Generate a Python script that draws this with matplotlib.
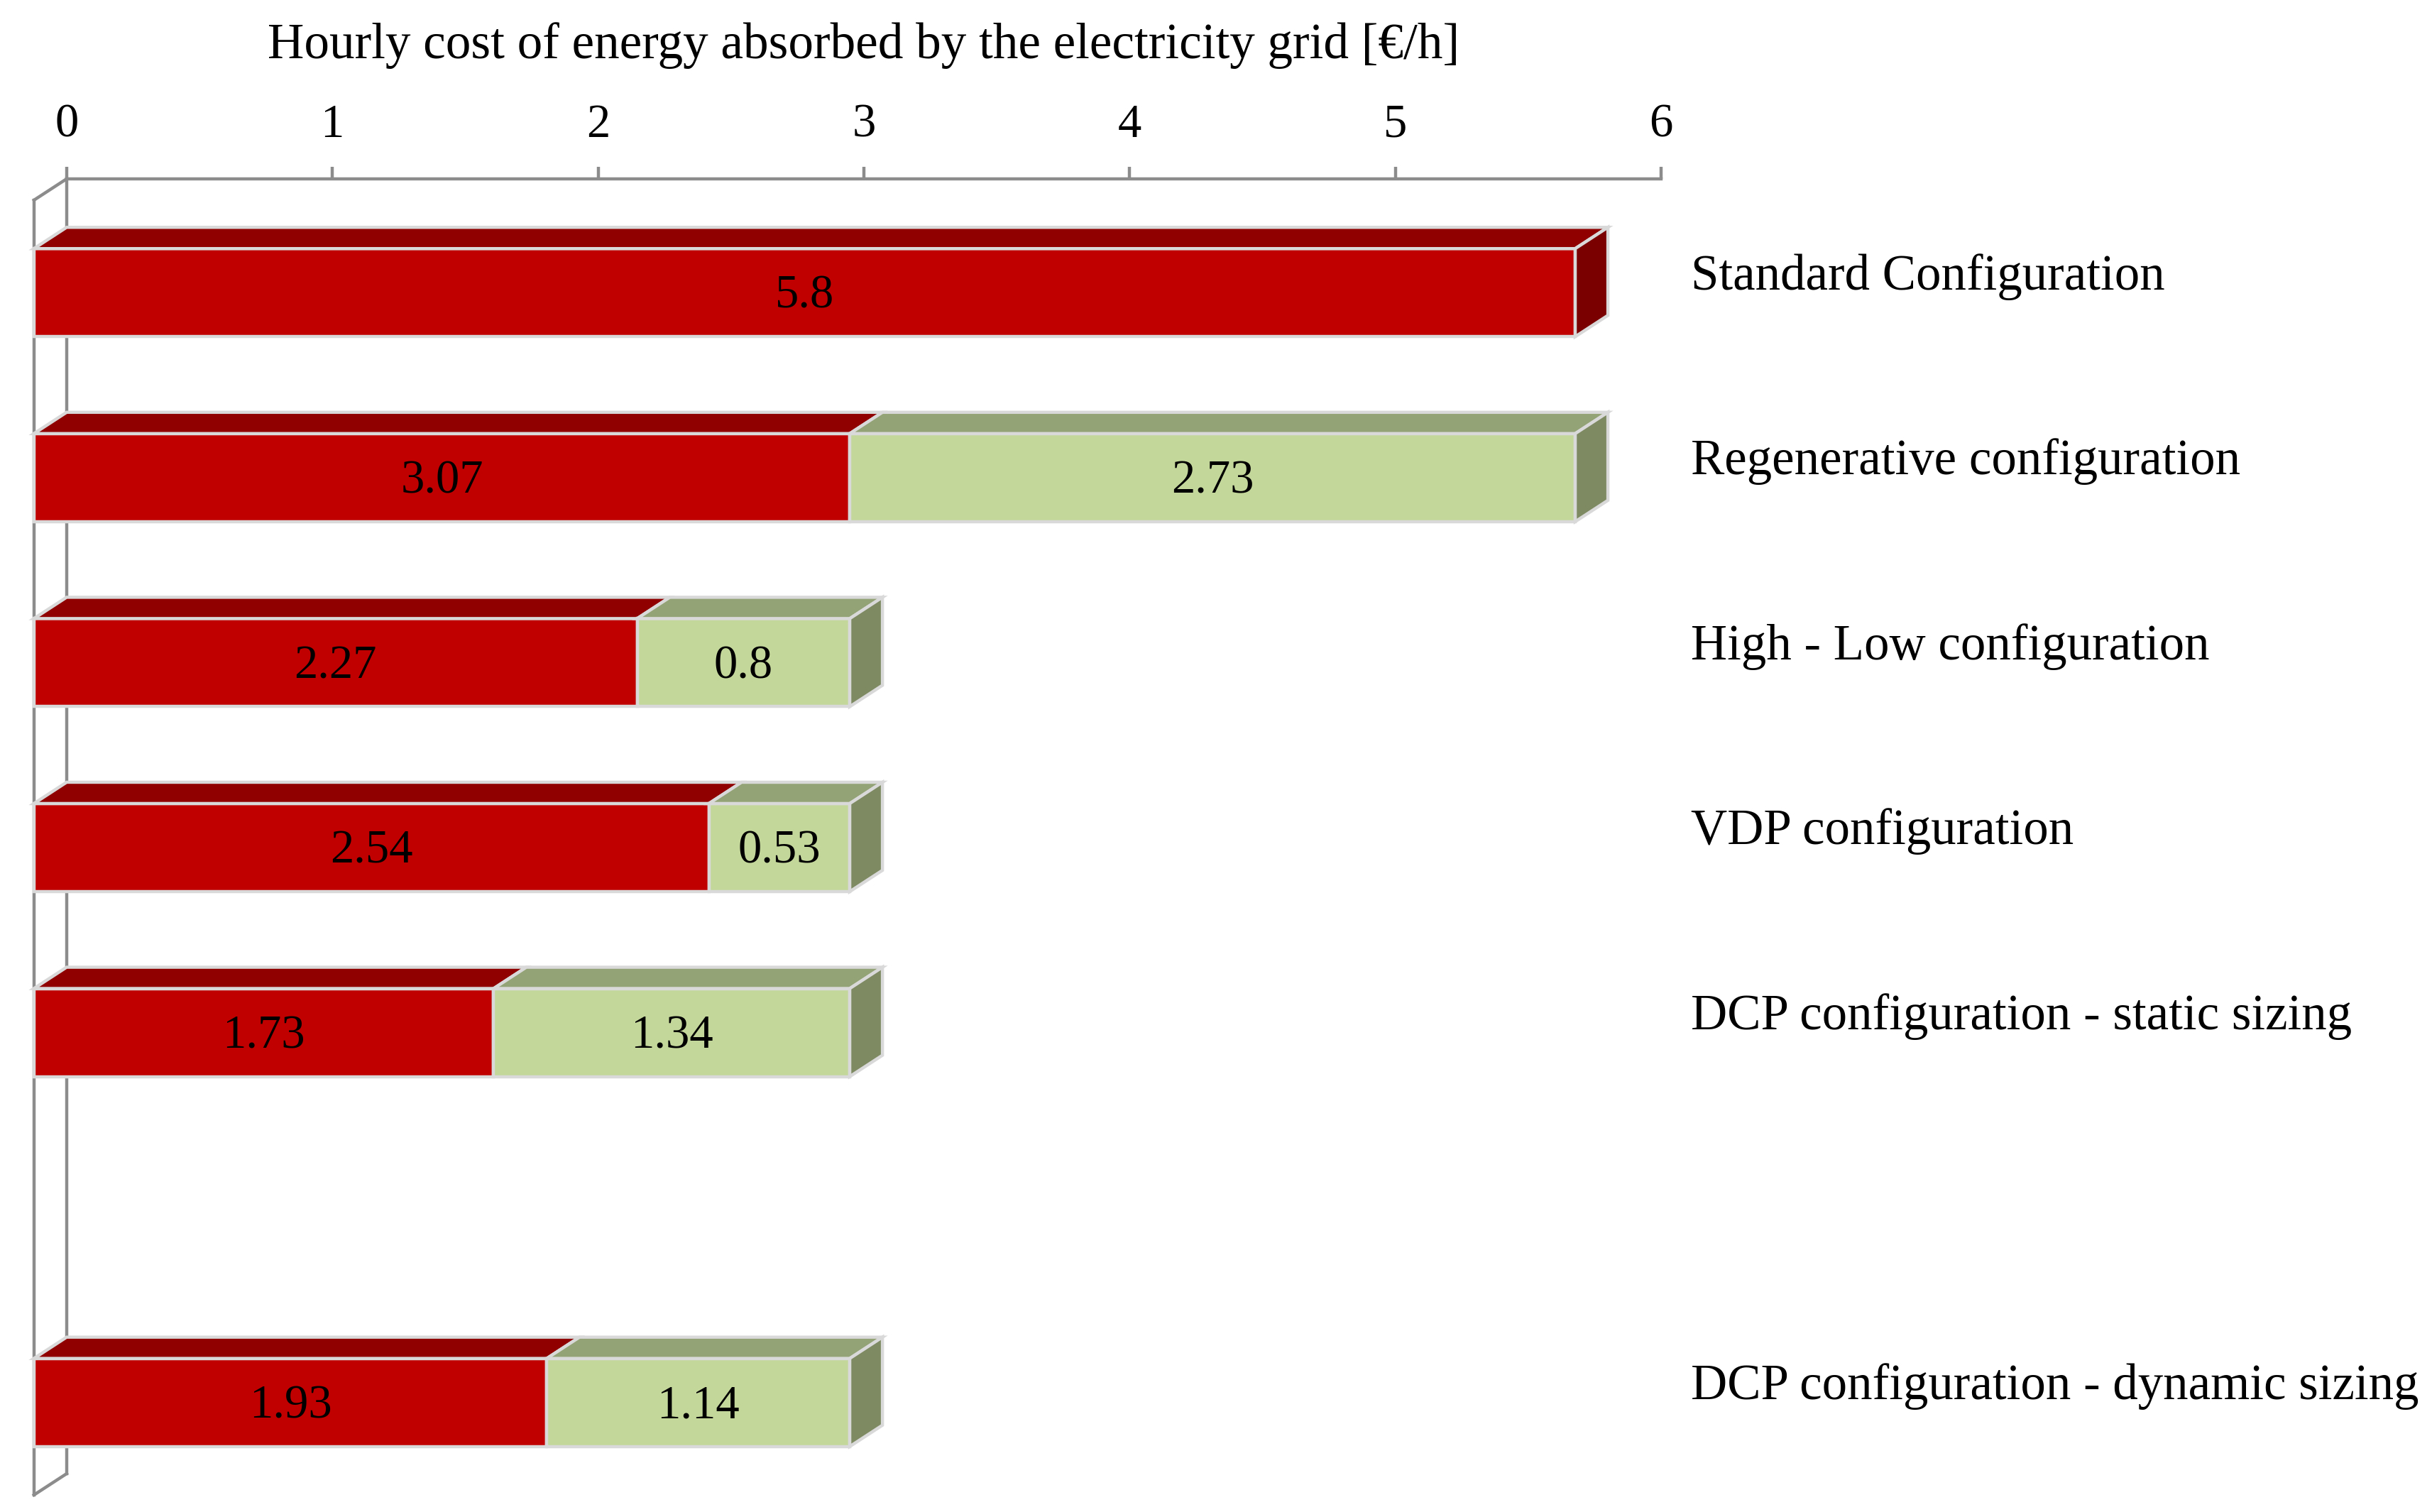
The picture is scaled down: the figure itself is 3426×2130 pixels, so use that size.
import numpy as np
import matplotlib.pyplot as plt
from matplotlib.patches import Polygon

plt.rcParams['font.family'] = ['Liberation Serif', 'DejaVu Serif']

categories = ["Standard Configuration",
              "Regenerative configuration",
              "High - Low configuration",
              "VDP configuration",
              "DCP configuration - static sizing",
              "",
              "DCP configuration - dynamic sizing"]
red_part = [5.8, 3.07, 2.27, 2.54, 1.73, np.nan, 1.93]
green_part = [np.nan, 2.73, 0.8, 0.53, 1.34, np.nan, 1.14]
x_ticks = [0, 1, 2, 3, 4, 5, 6]
title = "Hourly cost of energy absorbed by the electricity grid [€/h]"

# colours (front, top, side)
red_cols = ('#C00000', '#900000', '#7A0000')
green_cols = ('#C4D79B', '#94A375', '#7E8A62')
edge = '#D9D9D9'
wall = '#8C8C8C'

# fake 3d depth, in data units
dx = 0.123
dy = 0.115
h = 0.476

fig = plt.figure(figsize=(17.13, 10.65), dpi=200)
ax = fig.add_axes([0.0274, 0.02535, 0.6556, 0.85635])
ax.set_xlim(0, 6)
ax.set_ylim(6.5, -0.5)


def face(pts, color):
    ax.add_patch(Polygon(pts, closed=True, facecolor=color, edgecolor=edge,
                         lw=1.6, clip_on=False, joinstyle='miter', zorder=3))


# walls
ax.plot([-dx, -dx], [-0.5 + dy, 6.5 + dy], color=wall, lw=1.6, clip_on=False, zorder=1)
ax.plot([0, -dx], [-0.5, -0.5 + dy], color=wall, lw=1.6, clip_on=False, zorder=1)
ax.plot([0, -dx], [6.5, 6.5 + dy], color=wall, lw=1.6, clip_on=False, zorder=1)

for i in range(len(categories)):
    left = 0.0
    last = None
    yt = i + dy - h / 2
    yb = i + dy + h / 2
    for val, cols in ((red_part[i], red_cols), (green_part[i], green_cols)):
        if np.isnan(val):
            continue
        right = left + val
        face([(left - dx, yt), (right - dx, yt), (right - dx, yb), (left - dx, yb)], cols[0])
        face([(left - dx, yt), (right - dx, yt), (right, yt - dy), (left, yt - dy)], cols[1])
        ax.text((left + right) / 2 - dx, i + dy + 0.02, f"{val:g}", ha='center', va='center',
                fontsize=24, color='black', zorder=4)
        last = cols
        left = right
    if last is not None:
        face([(left - dx, yt), (left, yt - dy), (left, yb - dy), (left - dx, yb)], last[2])

ax.spines['right'].set_visible(False)
ax.spines['bottom'].set_visible(False)
ax.spines['top'].set_color(wall)
ax.spines['left'].set_color(wall)
ax.spines['top'].set_linewidth(1.6)
ax.spines['left'].set_linewidth(1.6)
ax.spines['left'].set_zorder(1)

ax.xaxis.tick_top()
ax.set_xticks(x_ticks)
ax.tick_params(axis='x', direction='out', length=6.2, width=1.6, color=wall,
               pad=10, labelsize=24)
ax.xaxis.set_label_position('top')
ax.set_xlabel(title, fontsize=25.6, labelpad=23)

ax.yaxis.tick_right()
ax.set_yticks(range(len(categories)))
ax.set_yticklabels(categories)
ax.tick_params(axis='y', length=0, pad=15, labelsize=25.5)

fig.savefig("out.png", dpi=200)
